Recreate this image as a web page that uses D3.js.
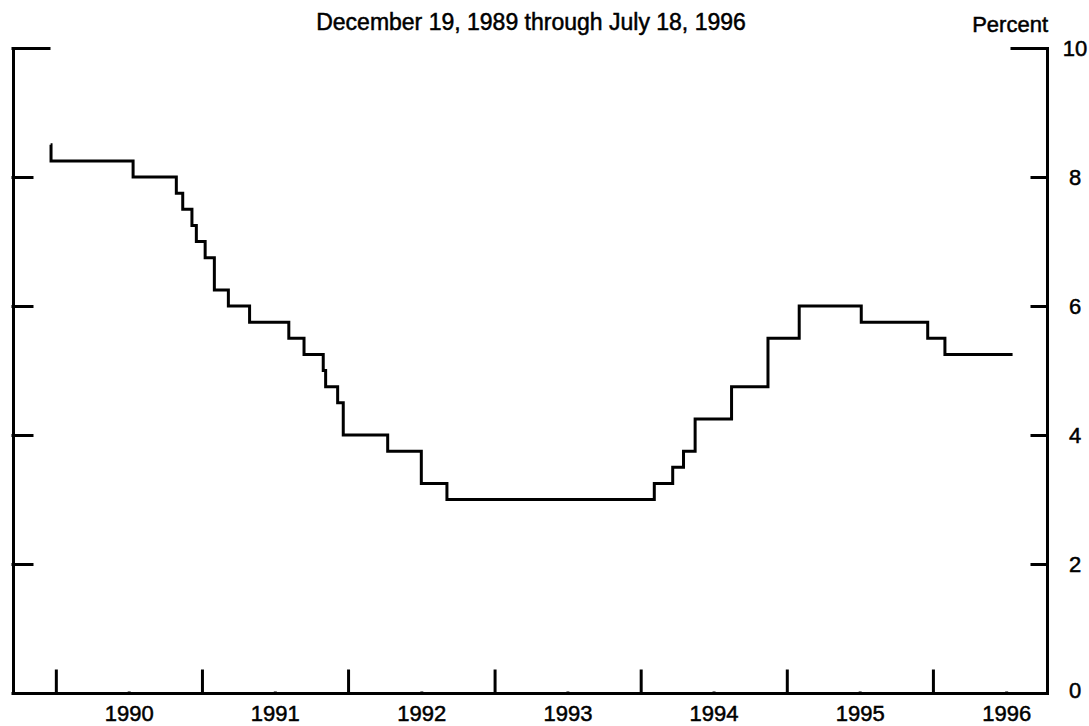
<!DOCTYPE html>
<html lang="en">
<head>
<meta charset="UTF-8">
<title>Federal funds rate</title>
<script src="https://cdn.jsdelivr.net/npm/d3@7"></script>
<style>
  body { margin: 0; background: #fff; }
  svg { display: block; font-family: "Liberation Sans", Arial, Helvetica, sans-serif; }
  svg text { fill: #000; stroke: #000; stroke-width: 0.5px; }
  .axis path, .axis line { stroke: #000; stroke-width: 3; stroke-linecap: square; }
  .axis text { font-size: 22px; }
</style>
</head>
<body>
<div id="chart"></div>
<script>
// intended federal funds rate, change dates and levels
const changeDates = [
  "1989-12-19", "1989-12-20", "1990-07-13", "1990-10-29", "1990-11-14", "1990-12-07",
  "1990-12-18", "1991-01-09", "1991-02-01", "1991-03-08", "1991-04-30", "1991-08-06",
  "1991-09-13", "1991-10-31", "1991-11-06", "1991-12-06", "1991-12-20", "1992-04-09",
  "1992-07-02", "1992-09-04", "1994-02-04", "1994-03-22", "1994-04-18", "1994-05-17",
  "1994-08-16", "1994-11-15", "1995-02-01", "1995-07-06", "1995-12-19", "1996-01-31",
  "1996-07-18"
]
const rates = [
  8.50, 8.25, 8.00, 7.75, 7.50, 7.25,
  7.00, 6.75, 6.25, 6.00, 5.75, 5.50,
  5.25, 5.00, 4.75, 4.50, 4.00, 3.75,
  3.25, 3.00, 3.25, 3.50, 3.75, 4.25,
  4.75, 5.50, 6.00, 5.75, 5.50, 5.25,
  5.25
]
const yearTicks = [1990, 1991, 1992, 1993, 1994, 1995, 1996]
const yTicks = [0, 2, 4, 6, 8, 10]
const title = "December 19, 1989 through July 18, 1996"
const unitLabel = "Percent"

const w = 1089
const h = 726
const mLeft = 13, mRight = 1047, mTop = 48, mBottom = 693

const parse = d3.timeParse("%Y-%m-%d")
const data = changeDates.map((d, i) => ({ date: parse(d), rate: rates[i] }))

const svg = d3.select("#chart").append("svg")
  .attr("width", w)
  .attr("height", h)

const x = d3.scaleTime()
  .domain([new Date(1989, 8, 16), new Date(1996, 9, 12)])
  .range([mLeft, mRight])

const y = d3.scaleLinear()
  .domain([0, 10])
  .range([mBottom, mTop])

// left axis: ticks only, pointing inward
const leftAxis = svg.append("g")
  .attr("class", "axis")
  .attr("transform", `translate(${mLeft},0)`)
  .call(d3.axisRight(y).tickValues(yTicks).tickSize(19).tickSizeOuter(0).tickFormat(""))
leftAxis.selectAll(".tick").filter(d => d === 10).select("line").attr("x2", 36)

// right axis: ticks inward, labels outside
const rightAxis = svg.append("g")
  .attr("class", "axis")
  .attr("transform", `translate(${mRight},0)`)
  .call(d3.axisRight(y).tickValues(yTicks).tickSize(-15).tickSizeOuter(0).tickFormat(d3.format("d")))
rightAxis.selectAll(".tick").filter(d => d === 10).select("line").attr("x2", -35)
rightAxis.selectAll("text")
  .attr("text-anchor", "middle")
  .attr("x", 28)
rightAxis.selectAll(".tick").filter(d => d === 0).select("text").attr("dy", "0.2em")

// bottom axis: year boundary ticks pointing up
svg.append("g")
  .attr("class", "axis")
  .attr("transform", `translate(0,${mBottom})`)
  .call(d3.axisTop(x)
    .tickValues(yearTicks.map(yr => new Date(yr, 0, 1)))
    .tickSize(22).tickSizeOuter(0).tickFormat(""))

// year labels centred in each year
const labelAxis = svg.append("g")
  .attr("class", "axis")
  .attr("transform", `translate(0,${mBottom})`)
  .call(d3.axisBottom(x)
    .tickValues(yearTicks.map(yr => new Date(yr, 6, 2)))
    .tickSize(0).tickFormat(d3.timeFormat("%Y")))
labelAxis.select(".domain").remove()
labelAxis.selectAll("text").attr("dy", null).attr("y", 28)

// the rate as a step line
const line = d3.line()
  .x(d => x(d.date))
  .y(d => y(d.rate))
  .curve(d3.curveStepAfter)

svg.append("path")
  .datum(data)
  .attr("fill", "none")
  .attr("stroke", "#000")
  .attr("stroke-width", 3)
  .attr("stroke-linejoin", "miter")
  .attr("d", line)

svg.append("text")
  .attr("x", 531)
  .attr("y", 30)
  .attr("text-anchor", "middle")
  .style("font-size", "23px")
  .text(title)

svg.append("text")
  .attr("x", mRight + 1)
  .attr("y", 32)
  .attr("text-anchor", "end")
  .style("font-size", "22px")
  .text(unitLabel)
</script>
</body>
</html>
